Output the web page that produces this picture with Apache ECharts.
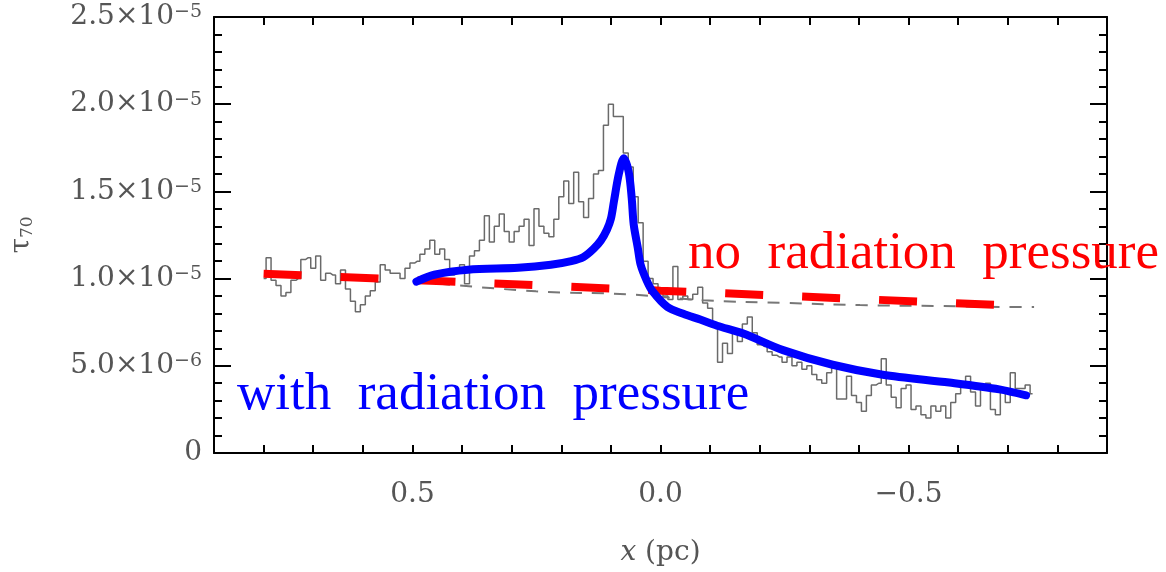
<!DOCTYPE html>
<html><head><meta charset="utf-8">
<script src="https://cdn.jsdelivr.net/npm/echarts@6/dist/echarts.min.js"></script>
<style>html,body{margin:0;padding:0;background:#fff}#c{width:1166px;height:572px}</style>
</head><body><div id="c"></div>
<script>
// ---- data (tau values in units of 1e-6) ----
const noisyX = [
 0.80,0.79,0.78,0.77,0.76,0.75,0.74,0.73,0.72,0.71,
 0.70,0.69,0.68,0.67,0.66,0.65,0.64,0.63,0.62,0.61,
 0.60,0.59,0.58,0.57,0.56,0.55,0.54,0.53,0.52,0.51,
 0.50,0.49,0.48,0.47,0.46,0.45,0.44,0.43,0.42,0.41,
 0.40,0.39,0.38,0.37,0.36,0.35,0.34,0.33,0.32,0.31,
 0.30,0.29,0.28,0.27,0.26,0.25,0.24,0.23,0.22,0.21,
 0.20,0.19,0.18,0.17,0.16,0.15,0.14,0.13,0.12,0.11,
 0.10,0.09,0.08,0.07,0.06,0.05,0.04,0.03,0.02,0.01,
 0.00,-0.01,-0.02,-0.03,-0.04,-0.05,-0.06,-0.07,-0.08,-0.09,
 -0.10,-0.11,-0.12,-0.13,-0.14,-0.15,-0.16,-0.17,-0.18,-0.19,
 -0.20,-0.21,-0.22,-0.23,-0.24,-0.25,-0.26,-0.27,-0.28,-0.29,
 -0.30,-0.31,-0.32,-0.33,-0.34,-0.35,-0.36,-0.37,-0.38,-0.39,
 -0.40,-0.41,-0.42,-0.43,-0.44,-0.45,-0.46,-0.47,-0.48,-0.49,
 -0.50,-0.51,-0.52,-0.53,-0.54,-0.55,-0.56,-0.57,-0.58,-0.59,
 -0.60,-0.61,-0.62,-0.63,-0.64,-0.65,-0.66,-0.67,-0.68,-0.69,
 -0.70,-0.71,-0.72,-0.73,-0.74,-0.75
];
const noisyTau = [
 10.0,11.2,9.9,9.6,9.0,9.2,9.9,10.0,11.1,11.2,
 10.6,11.3,9.9,10.3,10.2,9.7,10.5,9.4,8.7,8.1,
 8.5,9.0,9.3,9.8,10.8,10.5,10.3,10.3,10.0,10.6,
 10.9,11.0,11.4,11.7,12.2,11.4,11.7,11.1,
 10.2,10.4,10.8,9.7,11.3,11.6,12.2,13.6,12.1,13.0,
 13.7,12.7,12.1,12.7,13.0,13.4,11.9,14.0,13.0,12.6,
 12.4,13.4,14.7,15.6,14.3,16.1,14.4,13.5,14.6,16.0,
 16.2,18.8,20.0,19.3,19.3,17.2,16.4,14.7,13.2,11.0,
 10.0,9.7,
 9.3,9.0,8.8,10.7,8.8,9.0,8.8,9.1,9.5,8.6,
 8.3,7.4,5.2,6.3,5.7,6.9,6.4,7.4,7.8,6.9,
 6.2,6.1,5.8,5.6,5.5,5.2,5.5,5.0,5.2,4.8,
 5.0,4.5,4.2,4.0,4.6,5.0,3.1,
 3.1,4.4,3.3,2.9,2.4,3.3,3.9,4.0,5.4,3.9,
 3.2,2.6,3.7,3.9,2.5,2.7,2.2,2.0,2.7,2.4,
 2.7,2.0,2.9,3.4,4.0,4.4,3.5,2.7,3.7,4.0,
 2.5,2.2,3.5,2.9,4.6,3.7,3.7,3.9,3.4
];
const blueX = [0.492,0.456,0.388,0.287,0.221,0.180,0.155,0.135,0.120,0.108,0.100,0.094,0.084,0.074,0.064,0.058,0.054,0.046,0.040,0.028,0.016,-0.014,-0.046,-0.080,-0.114,-0.167,-0.247,-0.347,-0.448,-0.582,-0.683,-0.737];
const blueTau = [9.83,10.22,10.51,10.62,10.79,11.0,11.24,11.7,12.19,12.8,13.43,14.4,16.0,16.9,16.1,14.6,13.1,11.8,10.79,9.9,9.27,8.37,7.98,7.65,7.30,6.85,5.90,5.06,4.49,4.04,3.65,3.31];
const grayDashX = [0.492,0.251,0.068,-0.086,-0.255,-0.402,-0.552,-0.713,-0.753];
const grayDashTau = [9.83,9.27,9.10,8.76,8.60,8.48,8.43,8.37,8.37];
const redX = [0.80,0.40,0.00,-0.40,-0.75];
const redTau = [10.28,9.80,9.31,8.83,8.40];

const xLabelValues = [0.5, 0.0, -0.5];
const xLabelTexts = ['0.5', '0.0', '\u22120.5'];
const yTickValues = [0, 5e-6, 1e-5, 1.5e-5, 2e-5, 2.5e-5];
const yTickMant = ['0', '5.0', '1.0', '1.5', '2.0', '2.5'];
const yTickExp = ['', '\u22126', '\u22125', '\u22125', '\u22125', '\u22125'];
const annoNo = 'no  radiation  pressure';
const annoWith = 'with  radiation  pressure';

const pairs = (xs, ys) => xs.map((x, i) => [x, ys[i] * 1e-6]);

const labelGray = '#555';
const tickFont = '"DejaVu Serif", serif';

function xFmt(v) {
  for (let i = 0; i < xLabelValues.length; i++) if (Math.abs(v - xLabelValues[i]) < 1e-6) return xLabelTexts[i];
  return '';
}
function yFmt(v) {
  for (let i = 0; i < yTickValues.length; i++) {
    if (Math.abs(v - yTickValues[i]) < 1e-9) {
      if (!yTickExp[i]) return '{m|' + yTickMant[i] + '}';
      return '{m|' + yTickMant[i] + '\u00d710}{e|' + yTickExp[i] + '}';
    }
  }
  return '';
}

const chart = echarts.init(document.getElementById('c'), null, {renderer: 'canvas'});
const axisLineStyle = {color: '#000', width: 2};
chart.setOption({
  animation: false,
  backgroundColor: '#fff',
  grid: {left: 210, right: 59, top: 17, bottom: 110, containLabel: false},
  xAxis: [{
    type: 'value', inverse: true, min: -0.9, max: 0.9, interval: 0.1,
    position: 'bottom',
    axisLine: {show: true, onZero: false, lineStyle: axisLineStyle},
    axisTick: {show: true, inside: true, length: 8, lineStyle: {color: '#000', width: 2}},
    splitLine: {show: false},
    axisLabel: {show: true, formatter: xFmt, margin: 28, color: labelGray, fontFamily: tickFont, fontSize: 28},
    name: '{i|x}{n|\u00a0(pc)}',
    nameLocation: 'middle', nameGap: 86,
    nameTextStyle: {rich: {
      i: {fontFamily: tickFont, fontSize: 28, fontStyle: 'italic', color: labelGray},
      n: {fontFamily: tickFont, fontSize: 28, color: labelGray}
    }}
  }, {
    type: 'value', inverse: true, min: -0.9, max: 0.9, interval: 0.1,
    position: 'top',
    axisLine: {show: true, onZero: false, lineStyle: axisLineStyle},
    axisTick: {show: true, inside: true, length: 8, lineStyle: {color: '#000', width: 2}},
    splitLine: {show: false},
    axisLabel: {show: false}
  }],
  yAxis: [{
    type: 'value', min: 0, max: 2.5e-5, interval: 5e-6,
    position: 'left',
    axisLine: {show: true, onZero: false, lineStyle: axisLineStyle},
    axisTick: {show: true, inside: true, length: 17, lineStyle: {color: '#000', width: 2}},
    minorTick: {show: true, splitNumber: 5, length: 8, lineStyle: {color: '#000', width: 2}},
    splitLine: {show: false},
    axisLabel: {
      show: true, formatter: yFmt, margin: 12,
      rich: {
        m: {fontFamily: tickFont, fontSize: 28, color: labelGray, verticalAlign: 'bottom'},
        e: {fontFamily: tickFont, fontSize: 19, color: labelGray, verticalAlign: 'top'}
      }
    },
    name: '{t|\u03c4}{s|70}',
    nameLocation: 'middle', nameRotate: 90, nameGap: 178,
    nameTextStyle: {rich: {
      t: {fontFamily: tickFont, fontSize: 28, color: labelGray},
      s: {fontFamily: tickFont, fontSize: 17, color: labelGray, verticalAlign: 'bottom'}
    }}
  }, {
    type: 'value', min: 0, max: 2.5e-5, interval: 5e-6,
    position: 'right',
    axisLine: {show: true, onZero: false, lineStyle: axisLineStyle},
    axisTick: {show: true, inside: true, length: 17, lineStyle: {color: '#000', width: 2}},
    minorTick: {show: true, splitNumber: 5, length: 8, lineStyle: {color: '#000', width: 2}},
    splitLine: {show: false},
    axisLabel: {show: false}
  }],
  series: [{
    name: 'data', type: 'line', xAxisIndex: 0, yAxisIndex: 0,
    data: pairs(noisyX, noisyTau), step: 'middle', showSymbol: false, symbol: 'none',
    lineStyle: {color: '#6a6a6a', width: 1.5}, z: 2
  }, {
    name: 'model no rad (thin)', type: 'line', xAxisIndex: 0, yAxisIndex: 0,
    data: pairs(grayDashX, grayDashTau), smooth: 0.4, symbol: 'none',
    lineStyle: {color: '#777', width: 2, type: [12, 10]}, z: 3
  }, {
    name: 'no radiation pressure', type: 'line', xAxisIndex: 0, yAxisIndex: 0,
    data: pairs(redX, redTau), symbol: 'none',
    lineStyle: {color: '#ff0000', width: 8, type: [38, 39], cap: 'butt'}, z: 4
  }, {
    name: 'with radiation pressure', type: 'line', xAxisIndex: 0, yAxisIndex: 0,
    data: pairs(blueX, blueTau), smooth: 0.3, symbol: 'none',
    lineStyle: {color: '#0000ff', width: 8, cap: 'round', join: 'round'}, z: 5
  }],
  graphic: [{
    type: 'text', z: 10,
    style: {x: 688, y: 254, text: annoNo, font: '53px "Liberation Serif", serif', fill: '#ff0000', textAlign: 'left', textVerticalAlign: 'middle'}
  }, {
    type: 'text', z: 10,
    style: {x: 237, y: 395, text: annoWith, font: '53px "Liberation Serif", serif', fill: '#0000ff', textAlign: 'left', textVerticalAlign: 'middle'}
  }]
});
</script>
</body></html>
